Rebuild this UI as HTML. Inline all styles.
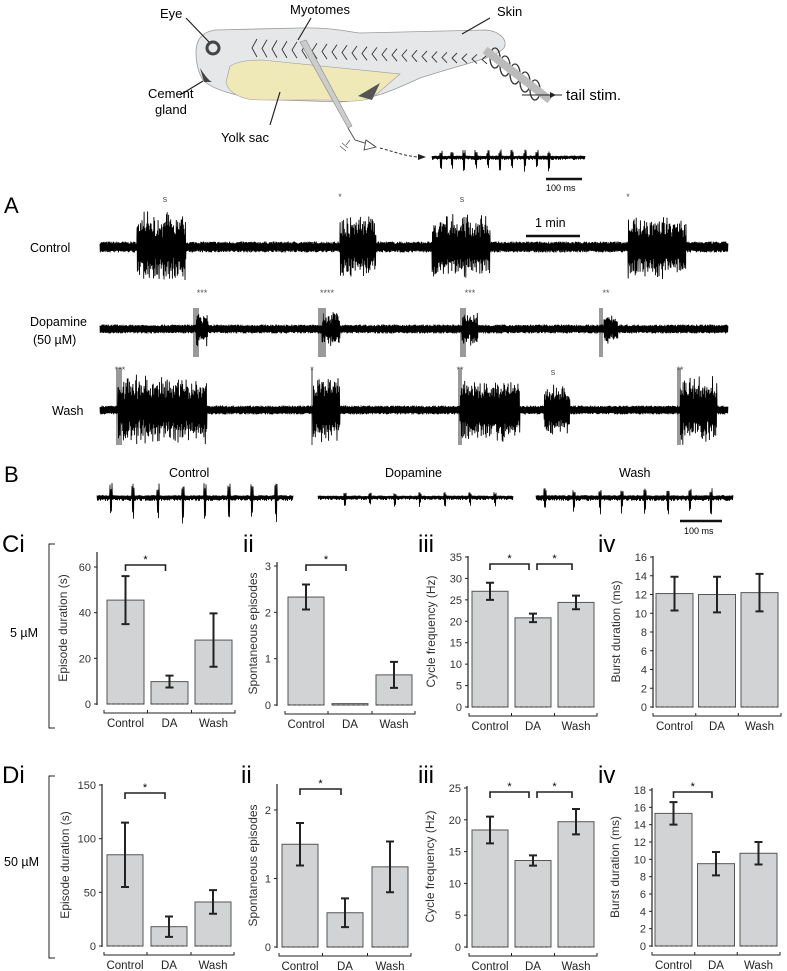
<!DOCTYPE html>
<html><head><meta charset="utf-8">
<style>
html,body{margin:0;padding:0;background:#fff;}
svg{display:block;font-family:"Liberation Sans",sans-serif;}
</style></head>
<body>
<svg id="fig" width="787" height="971" viewBox="0 0 787 971" xmlns="http://www.w3.org/2000/svg">
<g>
  <path d="M196,52 C196,40 202,32 215,30 L300,28 C330,27 350,32 360,33 L485,30 C500,31 508,40 504,48 C495,58 470,62 420,78 C390,92 370,100 340,102 L280,100 C250,100 215,92 203,80 C198,72 196,62 196,52 Z" fill="#e6e7e8" stroke="#9a9a9a" stroke-width="0.8"/>
  <path d="M230,66 C240,60 255,60 262,60 L400,74 L372,98 C360,102 340,102 330,100 L260,100 C240,100 228,92 226,82 Z" fill="#efe9b8" stroke="#9a9a9a" stroke-width="0.6"/>
  <path d="M358,96 L380,83 L372,100 Z" fill="#555"/>
  <circle cx="213" cy="48" r="6" fill="none" stroke="#444" stroke-width="3"/>
  <path d="M200,68 C204,74 208,80 212,82 L204,82 Z" fill="#444"/>
  <g stroke="#333" stroke-width="0.9" fill="none" id="myos"></g>
  <path d="M300,42 L348,128 L352,126 L306,40 Z" fill="#ccc" stroke="#888" stroke-width="0.6"/>
  <path d="M348,128 L355,140 L368,144" fill="none" stroke="#555" stroke-width="1"/>
  <path d="M366,140 L376,147 L364,150 Z" fill="#fff" stroke="#333" stroke-width="0.8"/>
  <path d="M350,140 L346,145 M342,143 L348,148 M340,146 L346,151" stroke="#555" stroke-width="0.7"/>
  <path d="M380,148 C395,152 405,156 418,157" fill="none" stroke="#333" stroke-width="1" stroke-dasharray="3,2"/>
  <path d="M418,154 L426,157 L418,160 Z" fill="#222"/>
  <g fill="none" stroke="#333" stroke-width="1.3">
    <ellipse cx="495" cy="58" rx="5" ry="10"/><ellipse cx="505" cy="66" rx="5" ry="10"/><ellipse cx="515" cy="74" rx="5" ry="10"/><ellipse cx="525" cy="82" rx="5" ry="10"/><ellipse cx="535" cy="90" rx="5" ry="10"/>
  </g>
  <path d="M485,50 L550,100" stroke="#bbb" stroke-width="8" fill="none"/>
  <path d="M522,95 L562,95" stroke="#222" stroke-width="1"/>
  <path d="M550,92 L556,95 L550,98" fill="#222"/>
  <g stroke="#222" stroke-width="1.2">
    <line x1="186" y1="18" x2="209" y2="42"/>
    <line x1="311" y1="18" x2="298" y2="40"/>
    <line x1="490" y1="18" x2="462" y2="34"/>
    <line x1="180" y1="95" x2="203" y2="81"/>
    <line x1="270" y1="125" x2="280" y2="92"/>
  </g>
  <text x="160" y="18" font-size="13">Eye</text>
  <text x="290" y="14" font-size="13">Myotomes</text>
  <text x="497" y="16" font-size="13">Skin</text>
  <text x="148" y="98" font-size="13">Cement</text>
  <text x="155" y="114" font-size="13">gland</text>
  <text x="221" y="142" font-size="13">Yolk sac</text>
  <text x="566" y="100" font-size="15">tail stim.</text>
  <line x1="546" y1="179" x2="582" y2="179" stroke="#111" stroke-width="2.5"/>
  <text x="546" y="191" font-size="9">100 ms</text>
</g>
<g id="traces"></g>
<text x="4" y="213" font-size="22">A</text>
<text x="30" y="252" font-size="12.5">Control</text>
<text x="30" y="326" font-size="12.5">Dopamine</text>
<text x="33" y="344" font-size="12.5">(50 µM)</text>
<text x="52" y="415" font-size="12.5">Wash</text>
<line x1="526" y1="236" x2="580" y2="236" stroke="#111" stroke-width="2.5"/>
<text x="535" y="227" font-size="12.5">1 min</text>
<text x="4" y="482" font-size="22">B</text>
<text x="169" y="477" font-size="12.5">Control</text>
<text x="385" y="477" font-size="12.5">Dopamine</text>
<text x="619" y="477" font-size="12.5">Wash</text>
<line x1="680" y1="521" x2="722" y2="521" stroke="#111" stroke-width="2.5"/>
<text x="684" y="534" font-size="9">100 ms</text>
<text x="2" y="552" font-size="24">Ci</text>
<text x="243" y="552" font-size="24">ii</text>
<text x="418" y="552" font-size="24">iii</text>
<text x="598" y="552" font-size="24">iv</text>
<text x="2" y="783" font-size="24">Di</text>
<text x="241" y="783" font-size="24">ii</text>
<text x="418" y="783" font-size="24">iii</text>
<text x="598" y="783" font-size="24">iv</text>
<path d="M55,544 L49,544 L49,728 L55,728" fill="none" stroke="#222" stroke-width="1"/>
<text x="10" y="637" font-size="12.5">5 µM</text>
<path d="M55,776 L49,776 L49,958 L55,958" fill="none" stroke="#222" stroke-width="1"/>
<text x="4" y="866" font-size="12.5">50 µM</text>
<g id="charts"></g>
</svg>
<script>
const categories = ["Control", "DA", "Wash"];
const cEpisodeVals = [45.5, 9.8, 28];
const cEpisodeErr = [10.5, 2.6, 11.7];
const cSpontVals = [2.33, 0.03, 0.65];
const cSpontErr = [0.27, 0, 0.28];
const cCycleVals = [27, 20.8, 24.4];
const cCycleErr = [2, 1, 1.6];
const cBurstVals = [12.1, 12.0, 12.2];
const cBurstErr = [1.8, 1.9, 2.0];
const dEpisodeVals = [85, 18, 41];
const dEpisodeErr = [30, 9.5, 11];
const dSpontVals = [1.5, 0.5, 1.17];
const dSpontErr = [0.31, 0.21, 0.37];
const dCycleVals = [18.4, 13.6, 19.7];
const dCycleErr = [2.1, 0.8, 2.0];
const dBurstVals = [15.3, 9.5, 10.7];
const dBurstErr = [1.3, 1.35, 1.3];
const ticksEpisodeC = [0, 20, 40, 60];
const ticksSpontC = [0, 1, 2, 3];
const ticksCycleC = [0, 5, 10, 15, 20, 25, 30, 35];
const ticksBurstC = [0, 2, 4, 6, 8, 10, 12, 14, 16];
const ticksEpisodeD = [0, 50, 100, 150];
const ticksSpontD = [0, 1, 2];
const ticksCycleD = [0, 5, 10, 15, 20, 25];
const ticksBurstD = [0, 2, 4, 6, 8, 10, 12, 14, 16, 18];

const NS = "http://www.w3.org/2000/svg";
function mk(tag, attrs, parent) {
  const e = document.createElementNS(NS, tag);
  for (const k in attrs) e.setAttribute(k, attrs[k]);
  parent.appendChild(e);
  return e;
}
const charts = document.getElementById("charts");

function chart(id, vals, errs, ticks, maxV, g, title, sig) {
  const grp = mk("g", {}, charts);
  
  
  const y = v => g.zero - (g.zero - g.topPix) * v / maxV;
  mk("line", {x1: g.ax, y1: g.axTop, x2: g.ax, y2: g.zero + 1, stroke: "#222", "stroke-width": 1.2}, grp);
  ticks.forEach(t => {
    mk("line", {x1: g.ax - 3, y1: y(t), x2: g.ax, y2: y(t), stroke: "#222", "stroke-width": 1}, grp);
    const tx = mk("text", {x: g.ax - 6, y: y(t) + 4, "font-size": 11, "text-anchor": "end", fill: "#333"}, grp);
    tx.textContent = t;
    
    
  });
  const yt = mk("text", {x: 0, y: 0, "font-size": 12, "text-anchor": "middle", fill: "#333",
    transform: `translate(${g.ax - g.titleOff},${(g.zero + g.axTop) / 2}) rotate(-90)`}, grp);
  yt.textContent = title;
  
  
  vals.forEach((v, i) => {
    const x0 = g.b0 + i * g.step;
    const r = mk("rect", {x: x0, y: y(v), width: g.w, height: g.zero - y(v), fill: "#d1d3d4", stroke: "#555", "stroke-width": 1}, grp);
    
    
    mk("line", {x1: x0, y1: g.zero, x2: x0 + g.w, y2: g.zero, stroke: "#333", "stroke-width": 1, "stroke-dasharray": "3,2"}, grp);
    const cx = x0 + g.w / 2;
    if (errs[i] > 0) {
      const eb = mk("path", {d: `M${cx - 4},${y(v + errs[i])}H${cx + 4}M${cx},${y(v + errs[i])}V${y(v - errs[i])}M${cx - 4},${y(v - errs[i])}H${cx + 4}`, stroke: "#222", "stroke-width": 2, fill: "none"}, grp);
      
      
    }
    const lab = mk("text", {x: cx, y: g.zero + 23, "font-size": 11.5, "text-anchor": "middle", fill: "#222"}, grp);
    lab.textContent = categories[i];
    
    
  });
  const by = g.zero + 9, bx0 = g.b0 - 3, bx1 = g.b0 + 2 * g.step + g.w + 3;
  let d = `M${bx0},${by - 3}V${by}H${bx1}V${by - 3}`;
  for (let i = 1; i < 3; i++) { const dx = g.b0 + i * g.step - (g.step - g.w) / 2; d += `M${dx},${by}V${by - 3}`; }
  mk("path", {d, stroke: "#222", "stroke-width": 1, fill: "none"}, grp);
  sig.forEach(([a, b]) => {
    const xa = g.b0 + a * g.step + g.w / 2 + (a > 0 ? 4 : 0), xb = g.b0 + b * g.step + g.w / 2 - 4;
    const s = mk("path", {d: `M${xa},${g.sigY + 6}V${g.sigY}H${xb}V${g.sigY + 6}`, stroke: "#222", "stroke-width": 1.6, fill: "none"}, grp);
    
    
    const st = mk("text", {x: (xa + xb) / 2, y: g.sigY - 2, "font-size": 11, "text-anchor": "middle"}, grp);
    st.textContent = "*";
    
    
  });
}
chart("chart-c-episode", cEpisodeVals, cEpisodeErr, ticksEpisodeC, 60, {ax: 97, axTop: 552, zero: 704, topPix: 567, b0: 107, step: 44, w: 37, titleOff: 30, sigY: 565}, "Episode duration (s)", [[0, 1]]);
chart("chart-c-spont", cSpontVals, cSpontErr, ticksSpontC, 3, {ax: 277, axTop: 562, zero: 705, topPix: 566, b0: 288, step: 44, w: 36, titleOff: 20, sigY: 565}, "Spontaneous episodes", [[0, 1]]);
chart("chart-c-cycle", cCycleVals, cCycleErr, ticksCycleC, 35, {ax: 468, axTop: 556, zero: 707, topPix: 557, b0: 472, step: 43, w: 36, titleOff: 33, sigY: 564}, "Cycle frequency (Hz)", [[0, 1], [1, 2]]);
chart("chart-c-burst", cBurstVals, cBurstErr, ticksBurstC, 16, {ax: 653, axTop: 556, zero: 707, topPix: 557, b0: 656, step: 42.5, w: 37, titleOff: 33, sigY: 0}, "Burst duration (ms)", []);
chart("chart-d-episode", dEpisodeVals, dEpisodeErr, ticksEpisodeD, 150, {ax: 102, axTop: 784, zero: 946, topPix: 785, b0: 107, step: 44, w: 36, titleOff: 33, sigY: 793}, "Episode duration (s)", [[0, 1]]);
chart("chart-d-spont", dSpontVals, dSpontErr, ticksSpontD, 2, {ax: 277, axTop: 784, zero: 947, topPix: 810, b0: 282, step: 45, w: 36, titleOff: 20, sigY: 789}, "Spontaneous episodes", [[0, 1]]);
chart("chart-d-cycle", dCycleVals, dCycleErr, ticksCycleD, 25, {ax: 467, axTop: 786, zero: 947, topPix: 788, b0: 472, step: 43, w: 36, titleOff: 33, sigY: 792}, "Cycle frequency (Hz)", [[0, 1], [1, 2]]);
chart("chart-d-burst", dBurstVals, dBurstErr, ticksBurstD, 18, {ax: 652, axTop: 788, zero: 946, topPix: 790, b0: 655, step: 42.5, w: 37, titleOff: 33, sigY: 792}, "Burst duration (ms)", [[0, 1]]);

// ---- illustrative traces (texture only) ----
let seed = 7;
function rnd() { seed = (seed * 16807) % 2147483647; return seed / 2147483647; }
const tr = document.getElementById("traces");
function trace(name, x0, x1, y, base, bursts, step) {
  let d = "";
  let up = true;
  for (let x = x0; x <= x1; x += step) {
    let a = base;
    bursts.forEach(([s, e, amp]) => { if (x >= s && x <= e) a = amp * (0.45 + 0.55 * rnd()); });
    const v = up ? -a : a; up = !up;
    d += (d ? "L" : "M") + x.toFixed(1) + "," + (y + v * (0.6 + 0.4 * rnd())).toFixed(1);
  }
  const p = mk("path", {d, stroke: "#000", "stroke-width": 0.9, fill: "none"}, tr);
  
  
}
trace("control-trace", 100, 728, 247, 5.5, [[137, 186, 36], [340, 376, 34], [432, 490, 33], [628, 686, 34]], 0.35);
trace("dopamine-trace", 100, 728, 329, 4.5, [[196, 208, 18], [322, 340, 20], [462, 478, 18], [604, 618, 16]], 0.35);
trace("wash-trace", 100, 728, 410, 4.5, [[118, 207, 36], [313, 340, 35], [460, 520, 34], [544, 570, 28], [680, 717, 36]], 0.35);
[[194,196,198],[319,321,323,325],[461,463,465],[600,602]].forEach(arr => arr.forEach(x => mk("line", {x1: x, y1: 308, x2: x, y2: 357, stroke: "#000", "stroke-width": 0.8}, tr)));
[[117,119,121],[312],[459,461],[678,680]].forEach(arr => arr.forEach(x => mk("line", {x1: x, y1: 368, x2: x, y2: 445, stroke: "#000", "stroke-width": 0.8}, tr)));
function stim(x, y, t) { const s = mk("text", {x, y, "font-size": 9, fill: "#555", "text-anchor": "middle"}, tr); s.textContent = t; }
stim(165, 202, "s"); stim(340, 200, "*"); stim(462, 202, "s"); stim(628, 200, "*");
stim(202, 296, "***"); stim(327, 296, "****"); stim(470, 296, "***"); stim(606, 296, "**");
stim(120, 373, "***"); stim(312, 373, "*"); stim(460, 373, "**"); stim(553, 375, "s"); stim(680, 373, "**");
function btrace(name, x0, x1, y, base, spikes, spikeAmp) {
  let d = ""; let up = true;
  for (let x = x0; x <= x1; x += 0.5) {
    let a = base;
    spikes.forEach(s => { if (Math.abs(x - s) < 1.5) a = spikeAmp; });
    const v = up ? -a * 0.5 : a; up = !up;
    d += (d ? "L" : "M") + x.toFixed(1) + "," + (y + v * (0.5 + 0.5 * rnd())).toFixed(1);
  }
  const p = mk("path", {d, stroke: "#000", "stroke-width": 0.8, fill: "none"}, tr);
  
  
}
btrace("b-control-trace", 97, 293, 497, 4, [111, 133, 158, 183, 205, 229, 252, 276], 28);
btrace("b-dopamine-trace", 318, 513, 497, 3, [345, 370, 395, 420, 445, 470, 495], 10);
btrace("b-wash-trace", 536, 733, 497, 4, [545, 574, 600, 622, 645, 668, 690, 711], 18);
btrace("inset-trace", 432, 585, 157, 3, [441, 452, 464, 476, 488, 500, 512, 525, 537, 549], 15);
const my = document.getElementById("myos");
for (let i = 0; i < 24; i++) {
  const x = 252 + i * 10, h = 18 - i * 0.4, yc = 48 + i * 0.5;
  mk("path", {d: `M${x + 5},${yc - h / 2}L${x},${yc}L${x + 5},${yc + h / 2}`}, my);
}
</script>
</body></html>
